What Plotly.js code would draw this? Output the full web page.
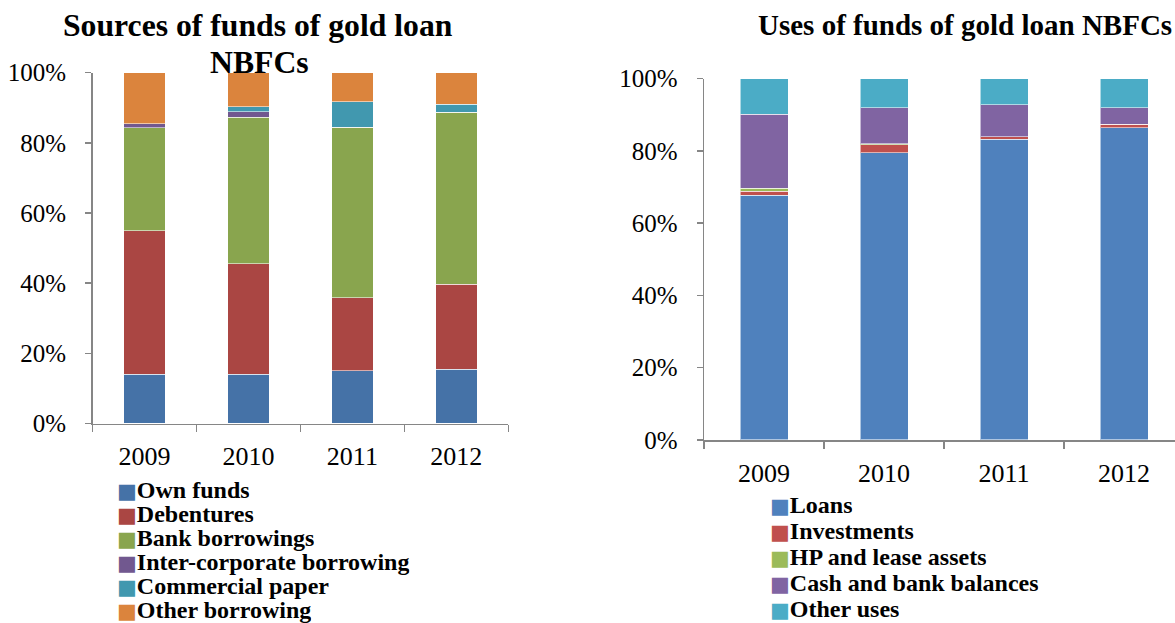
<!DOCTYPE html>
<html>
<head>
<meta charset="utf-8">
<script src="https://cdn.plot.ly/plotly-3.0.1.min.js"></script>
<style>
html, body { margin: 0; padding: 0; overflow: hidden; background: #fff; }
#chart { width: 1190px; height: 623px; }
</style>
</head>
<body>
<div id="chart"></div>
<script>
// ---------- Data ----------
const years = ['2009', '2010', '2011', '2012'];

// Sources of funds (% share)
const sourceNames = ['Own funds', 'Debentures', 'Bank borrowings', 'Inter-corporate borrowing', 'Commercial paper', 'Other borrowing'];
const ownFunds      = [14.0, 14.0, 15.1, 15.4];
const debentures    = [41.0, 31.5, 20.8, 24.3];
const bankBorrow    = [29.3, 41.8, 48.6, 49.0];
const interCorp     = [1.1, 1.6, 0.0, 0.0];
const commPaper     = [0.0, 1.4, 7.2, 2.3];
const otherBorrow   = [14.6, 9.7, 8.3, 9.0];
const sourceColors  = ['#4572A7', '#AA4643', '#89A54E', '#71588F', '#4198AF', '#DB843D'];

// Uses of funds (% share)
const useNames   = ['Loans', 'Investments', 'HP and lease assets', 'Cash and bank balances', 'Other uses'];
const loans      = [67.7, 79.5, 83.2, 86.4];
const investments= [1.1, 2.2, 0.8, 1.0];
const hpLease    = [0.9, 0.3, 0.0, 0.0];
const cashBank   = [20.4, 10.0, 8.8, 4.6];
const otherUses  = [9.9, 8.0, 7.2, 8.0];
const useColors  = ['#4F81BD', '#C0504D', '#9BBB59', '#8064A2', '#4BACC6'];

const yTicks = [0, 20, 40, 60, 80, 100];
const yTickText = ['0%', '20%', '40%', '60%', '80%', '100%'];

// ---------- Layout helpers ----------
const W = 1190, H = 623;
const px = v => v / W;
const py = v => 1 - v / H;
const serif = 'Liberation Serif';

const sourceSeries = [ownFunds, debentures, bankBorrow, interCorp, commPaper, otherBorrow];
const useSeries = [loans, investments, hpLease, cashBank, otherUses];

const traces = [];
sourceSeries.forEach((vals, i) => {
  traces.push({
    type: 'bar', x: years, y: vals, name: sourceNames[i],
    marker: { color: sourceColors[i], line: { color: 'rgba(255,255,255,0.55)', width: 1 } },
    xaxis: 'x', yaxis: 'y', showlegend: false, hoverinfo: 'name+y'
  });
});
useSeries.forEach((vals, i) => {
  traces.push({
    type: 'bar', x: years, y: vals, name: useNames[i],
    marker: { color: useColors[i], line: { color: 'rgba(255,255,255,0.55)', width: 1 } },
    xaxis: 'x2', yaxis: 'y2', showlegend: false, hoverinfo: 'name+y'
  });
});

const axisLine = { showline: true, linecolor: '#868686', linewidth: 1.5, ticks: 'outside', tickcolor: '#868686', tickwidth: 1.5, showgrid: false, zeroline: false, fixedrange: true };

const xCommon = Object.assign({}, axisLine, { type: 'category', tickson: 'boundaries', ticklen: 7, tickfont: { family: serif, size: 26, color: '#000' }, ticklabelstandoff: 9 });
const yCommon = Object.assign({}, axisLine, { range: [0, 100], tickmode: 'array', tickvals: yTicks, ticktext: yTickText, ticklen: 6, tickfont: { family: serif, size: 25, color: '#000' }, ticklabelstandoff: 14 });

const annotations = [];
function addText(text, x, y, size, anchor, extra) {
  annotations.push(Object.assign({ xref: 'paper', yref: 'paper', x: px(x), y: py(y), text: text, showarrow: false,
    xanchor: anchor || 'center', yanchor: 'middle', font: { family: serif, size: size, color: '#000' } }, extra || {}));
}
// Titles
addText('<b>Sources of funds of gold loan</b>', 258, 25, 31.7);
addText('<b>NBFCs</b>', 259, 62, 31.7);
addText('<b>Uses of funds of gold loan NBFCs</b>', 965, 25, 29);

// Legends (text lines with coloured swatch glyphs), compact line boxes
function legendLines(names, colors, x0, y0, step) {
  names.forEach((n, i) => {
    addText('<span style="color:' + colors[i] + ';font-family:DejaVu Sans;font-size:21px">■</span><b>' + n + '</b>',
      x0, y0 + i * step, 24, 'left', { height: 21, borderpad: 0, valign: 'bottom' });
  });
}
legendLines(sourceNames, sourceColors, 116, 492, 24);
legendLines(useNames, useColors, 769, 507, 26);

const layout = {
  width: W, height: H,
  margin: { l: 0, r: 0, t: 0, b: 0 },
  paper_bgcolor: '#fff', plot_bgcolor: '#fff',
  font: { family: serif },
  barmode: 'stack', bargap: 0.6,
  showlegend: false,
  xaxis: Object.assign({}, xCommon, { domain: [px(92.5), px(508.3)], anchor: 'y' }),
  yaxis: Object.assign({}, yCommon, { domain: [py(423.5), py(72.7)], anchor: 'x' }),
  xaxis2: Object.assign({}, xCommon, { domain: [px(704), px(1184)], anchor: 'y2' }),
  yaxis2: Object.assign({}, yCommon, { domain: [py(440), py(78.7)], anchor: 'x2' }),
  annotations: annotations
};

Plotly.newPlot('chart', traces, layout, { displayModeBar: false, staticPlot: true });
</script>
</body>
</html>
